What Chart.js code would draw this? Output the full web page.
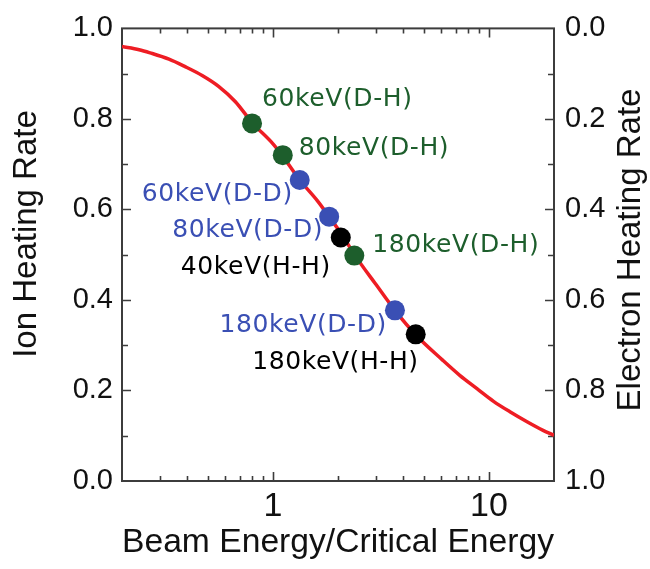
<!DOCTYPE html>
<html><head><meta charset="utf-8">
<script src="https://cdn.jsdelivr.net/npm/chart.js@4/dist/chart.umd.min.js"></script>
<style>html,body{margin:0;padding:0;background:#fff;}</style>
</head><body>
<canvas id="c" width="650" height="569" style="display:block;width:650px;height:569px"></canvas>
<script>
// ---- data ----
const curveX = [0.2, 0.24, 0.27, 0.33, 0.39, 0.47, 0.56, 0.67, 0.8, 1.0, 1.1, 1.33, 1.6, 1.82, 2.1, 2.4, 3.0, 3.67, 4.6, 6.1, 7.3, 8.8, 10.5, 12.5, 15, 17.8, 20];
const curveY = [0.960, 0.953, 0.946, 0.932, 0.916, 0.896, 0.872, 0.838, 0.792, 0.745, 0.720, 0.665, 0.620, 0.584, 0.542, 0.498, 0.434, 0.377, 0.322, 0.267, 0.234, 0.204, 0.176, 0.153, 0.131, 0.112, 0.101];

const dhLabels = ['60keV(D-H)', '80keV(D-H)', '180keV(D-H)'];
const dhX = [0.80, 1.11, 2.38];
const dhY = [0.790, 0.720, 0.498];

const ddLabels = ['60keV(D-D)', '80keV(D-D)', '180keV(D-D)'];
const ddX = [1.33, 1.82, 3.67];
const ddY = [0.665, 0.584, 0.377];

const hhLabels = ['40keV(H-H)', '180keV(H-H)'];
const hhX = [2.06, 4.58];
const hhY = [0.538, 0.324];

const xTickValues = [0.2, 0.3, 0.4, 0.5, 0.6, 0.7, 0.8, 0.9, 1, 2, 3, 4, 5, 6, 7, 8, 9, 10, 20];
const xTickLabels = [1, 10];
const yTickValues = [0, 0.2, 0.4, 0.6, 0.8, 1.0];
const yMinorTicks = [0.1, 0.3, 0.5, 0.7, 0.9];

const xTitle = 'Beam Energy/Critical Energy';
const yTitle = 'Ion Heating Rate';
const y2Title = 'Electron Heating Rate';

// ---- styles / layout ----
const GREEN = '#1d5e2c', BLUE = '#3a4fb4', BLACK = '#000000', RED = '#ee1d24';
const labelLayout = {
  '60keV(D-H)':  {dx: 10, dy: -24, align: 'left'},
  '80keV(D-H)':  {dx: 16, dy: -7,  align: 'left'},
  '180keV(D-H)': {dx: 18, dy: -10, align: 'left'},
  '60keV(D-D)':  {dx: -7, dy: 14,  align: 'right'},
  '80keV(D-D)':  {dx: -6, dy: 14,  align: 'right'},
  '180keV(D-D)': {dx: -8, dy: 15,  align: 'right'},
  '40keV(H-H)':  {dx: -10, dy: 30, align: 'right'},
  '180keV(H-H)': {dx: 3,  dy: 28,  align: 'right'}
};

const zip = (xs, ys) => xs.map((x, i) => ({x, y: ys[i]}));

const framePlugin = {
  id: 'frame',
  beforeDatasetsDraw(chart) {
    const {ctx, chartArea: a, scales} = chart;
    ctx.save();
    ctx.strokeStyle = '#3c3c3c';
    ctx.lineWidth = 1.6;
    const xs = scales.x, ys = scales.y;
    xTickValues.forEach(v => {
      if (v <= xs.min || v >= xs.max) return;
      const px = Math.round(xs.getPixelForValue(v)) + 0.5;
      const len = xTickLabels.includes(v) ? 9 : 5;
      ctx.beginPath();
      ctx.moveTo(px, a.bottom); ctx.lineTo(px, a.bottom - len);
      ctx.moveTo(px, a.top); ctx.lineTo(px, a.top + len);
      ctx.stroke();
    });
    const yAll = yTickValues.map(v => [v, 9]).concat(yMinorTicks.map(v => [v, 6]));
    yAll.forEach(([v, len]) => {
      if (v <= ys.min || v >= ys.max) return;
      const py = Math.round(ys.getPixelForValue(v)) + 0.5;
      ctx.beginPath();
      ctx.moveTo(a.left, py); ctx.lineTo(a.left + len, py);
      ctx.moveTo(a.right, py); ctx.lineTo(a.right - len, py);
      ctx.stroke();
    });
    ctx.lineWidth = 2;
    ctx.strokeRect(a.left, a.top, a.right - a.left, a.bottom - a.top);
    ctx.restore();
  },
  afterDatasetsDraw(chart) {
    const {ctx} = chart;
    ctx.save();
    ctx.font = '25px "DejaVu Sans"';
    ctx.letterSpacing = '0.6px';
    ctx.textBaseline = 'middle';
    chart.data.datasets.forEach((ds, i) => {
      if (!ds.pointLabels) return;
      const meta = chart.getDatasetMeta(i);
      meta.data.forEach((el, j) => {
        const txt = ds.pointLabels[j];
        const l = labelLayout[txt];
        ctx.fillStyle = ds.labelColor;
        ctx.textAlign = l.align;
        ctx.fillText(txt, el.x + l.dx, el.y + l.dy);
      });
    });
    ctx.restore();
  },
  afterDraw(chart) {
    const {ctx} = chart;
    [[yTitle, 27, 234], [y2Title, 631, 250]].forEach(([t, x, y]) => {
      ctx.save();
      ctx.font = '33px "Liberation Sans"';
      ctx.fillStyle = '#111';
      ctx.textAlign = 'center';
      ctx.textBaseline = 'middle';
      ctx.translate(x, y);
      ctx.rotate(-Math.PI / 2);
      ctx.fillText(t, 0, 0);
      ctx.restore();
    });
  }
};

new Chart(document.getElementById('c'), {
  type: 'scatter',
  data: {
    datasets: [
      {data: zip(dhX, dhY), pointLabels: dhLabels, labelColor: GREEN, backgroundColor: GREEN, borderWidth: 0, pointRadius: 10, order: 0},
      {data: zip(ddX, ddY), pointLabels: ddLabels, labelColor: BLUE, backgroundColor: BLUE, borderWidth: 0, pointRadius: 10, order: 0},
      {data: zip(hhX, hhY), pointLabels: hhLabels, labelColor: BLACK, backgroundColor: BLACK, borderWidth: 0, pointRadius: 10, order: 0},
      {data: zip(curveX, curveY), showLine: true, borderColor: RED, borderWidth: 3.5, pointRadius: 0, cubicInterpolationMode: 'monotone', order: 5}
    ]
  },
  options: {
    responsive: false,
    animation: false,
    layout: {padding: {top: 27, left: 0, right: 0, bottom: 0}},
    plugins: {legend: {display: false}, tooltip: {enabled: false}},
    scales: {
      x: {
        type: 'logarithmic', position: 'bottom', min: 0.2, max: 20,
        grid: {display: false, drawTicks: false}, border: {display: false},
        afterBuildTicks: s => { s.ticks = xTickValues.map(v => ({value: v})); },
        afterFit: s => { s.height = 88; },
        ticks: {
          autoSkip: false, maxRotation: 0, padding: 5, color: '#111',
          font: {family: 'Liberation Sans', size: 34},
          callback: v => xTickLabels.includes(v) ? String(v) : ''
        },
        title: {display: true, text: xTitle, color: '#111', font: {family: 'Liberation Sans', size: 34, lineHeight: 1.2}, padding: {top: 0, bottom: 6}}
      },
      y: {
        position: 'left', min: 0, max: 1,
        grid: {display: false, drawTicks: false}, border: {display: false},
        afterBuildTicks: s => { s.ticks = yTickValues.map(v => ({value: v})); },
        afterFit: s => { s.width = 122; },
        ticks: {padding: 9, color: '#111', font: {family: 'Liberation Sans', size: 29}, callback: v => v.toFixed(1)}
      },
      y2: {
        position: 'right', min: 0, max: 1, reverse: true,
        grid: {display: false, drawTicks: false}, border: {display: false},
        afterBuildTicks: s => { s.ticks = yTickValues.map(v => ({value: v})); },
        afterFit: s => { s.width = 96; },
        ticks: {padding: 11, color: '#111', font: {family: 'Liberation Sans', size: 29}, callback: v => v.toFixed(1)}
      }
    }
  },
  plugins: [framePlugin]
});
</script>
</body></html>
